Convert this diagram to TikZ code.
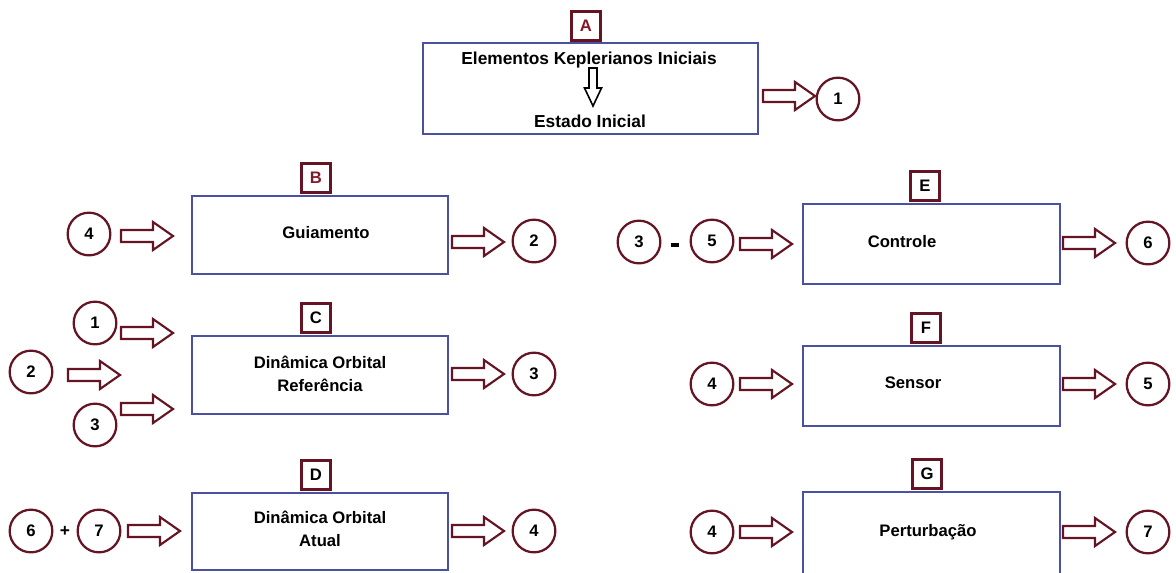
\documentclass[tikz,border=0pt]{standalone}
\usepackage{fontspec}
\setmainfont{Liberation Sans}
\definecolor{maroon}{RGB}{100,20,35}
\definecolor{lblred}{RGB}{130,25,40}
\definecolor{boxblue}{RGB}{75,80,160}
\tikzset{
  blockbox/.style={draw=boxblue, line width=1.9pt, fill=white, minimum width=192pt, inner sep=0pt},
  boxtext/.style={font=\bfseries\fontsize{12.5}{17}\selectfont, align=center, inner sep=0pt},
  numcirc/.style={circle, draw=maroon, line width=1.7pt, minimum size=32pt, inner sep=0pt, font=\bfseries\fontsize{12.5}{14}\selectfont},
  lblbox/.style={draw=maroon, line width=1.9pt, minimum size=22pt, inner sep=0pt, font=\bfseries\fontsize{12.5}{14}\selectfont},
  opsign/.style={font=\bfseries\fontsize{13}{14}\selectfont, inner sep=0pt},
  barr/.pic={\draw[maroon, line width=1.6pt, fill=white, line join=miter]
      (-26,-6) -- (6,-6) -- (6,-14) -- (26,0) -- (6,14) -- (6,6) -- (-26,6) -- cycle;},
  darr/.pic={\draw[black, line width=1.2pt, fill=white, line join=miter]
      (-4,-19) -- (4,-19) -- (4,1) -- (8.5,1) -- (0,19) -- (-8.5,1) -- (-4,1) -- cycle;}
}
\begin{document}
\begin{tikzpicture}[x=0.75pt,y=-0.75pt]
\useasboundingbox (0,0) rectangle (1176,572);
% ---- A ----
\node[blockbox, minimum width=251pt, minimum height=68pt] (A) at (590.5,88.5) {};
\node[lblbox, text=lblred, anchor=south] (lA) at (586,42) {A};
\node[boxtext, font=\bfseries\fontsize{13}{14}\selectfont] (A1) at (589,60) {Elementos Keplerianos Iniciais};
\pic (dA) at (593,87) {darr};
\node[boxtext, font=\bfseries\fontsize{13}{14}\selectfont] (A2) at (590,121) {Estado Inicial};
\pic (arA) at (789,96) {barr};
\node[numcirc] (o1) at (838,99) {1};
% ---- B ----
\node[blockbox, minimum height=58.5pt] (B) at (320,235) {};
\node[lblbox, text=lblred, anchor=south] (lB) at (316,194) {B};
\node[boxtext] (Bt) at (326,233) {Guiamento};
\node[numcirc] (b4) at (89,234) {4};
\pic (arBi) at (147,236) {barr};
\pic (arBo) at (478,242) {barr};
\node[numcirc] (o2) at (534,241) {2};
% ---- C ----
\node[blockbox, minimum height=58.5pt] (C) at (320,375) {};
\node[lblbox, anchor=south] (lC) at (316,334) {C};
\node[boxtext] (Ct) at (320,374) {Dinâmica Orbital\\Referência};
\node[numcirc] (c1) at (95,323) {1};
\node[numcirc] (c2) at (31,372) {2};
\node[numcirc] (c3) at (95,425) {3};
\pic (arC1) at (147,333) {barr};
\pic (arC2) at (94,375) {barr};
\pic (arC3) at (147,409) {barr};
\pic (arCo) at (478,374) {barr};
\node[numcirc] (o3) at (534,374) {3};
% ---- D ----
\node[blockbox, minimum height=58pt] (D) at (320,531.5) {};
\node[lblbox, anchor=south] (lD) at (316,491) {D};
\node[boxtext] (Dt) at (320,529) {Dinâmica Orbital\\Atual};
\node[numcirc] (d6) at (31,531) {6};
\node[opsign] (dplus) at (65,531) {+};
\node[numcirc] (d7) at (99,531) {7};
\pic (arDi) at (154,531) {barr};
\pic (arDo) at (478,531) {barr};
\node[numcirc] (o4) at (534,531) {4};
% ---- E ----
\node[blockbox, minimum width=192.75pt, minimum height=60pt] (E) at (931.5,244) {};
\node[lblbox, anchor=south] (lE) at (925,202) {E};
\node[boxtext] (Et) at (902,242) {Controle};
\node[numcirc] (e3) at (639,242) {3};
\node[opsign] (eminus) at (675,245) {\rule{6.5pt}{3pt}};
\node[numcirc] (e5) at (712,241) {5};
\pic (arEi) at (766,244) {barr};
\pic (arEo) at (1089,243) {barr};
\node[numcirc] (o6) at (1148,243) {6};
% ---- F ----
\node[blockbox, minimum width=192.75pt, minimum height=60pt] (F) at (931.5,386) {};
\node[lblbox, anchor=south] (lF) at (926,344) {F};
\node[boxtext] (Ft) at (913,383) {Sensor};
\node[numcirc] (f4) at (712,384) {4};
\pic (arFi) at (766,384) {barr};
\pic (arFo) at (1089,384) {barr};
\node[numcirc] (o5) at (1148,384) {5};
% ---- G ----
\node[blockbox, minimum width=192.75pt, minimum height=62pt] (G) at (931.5,533.3) {};
\node[lblbox, anchor=south] (lG) at (927,490) {G};
\node[boxtext] (Gt) at (928,532) {Perturbação};
\node[numcirc] (g4) at (712,532) {4};
\pic (arGi) at (766,532) {barr};
\pic (arGo) at (1089,532) {barr};
\node[numcirc] (o7) at (1148,532) {7};
\end{tikzpicture}
\end{document}
